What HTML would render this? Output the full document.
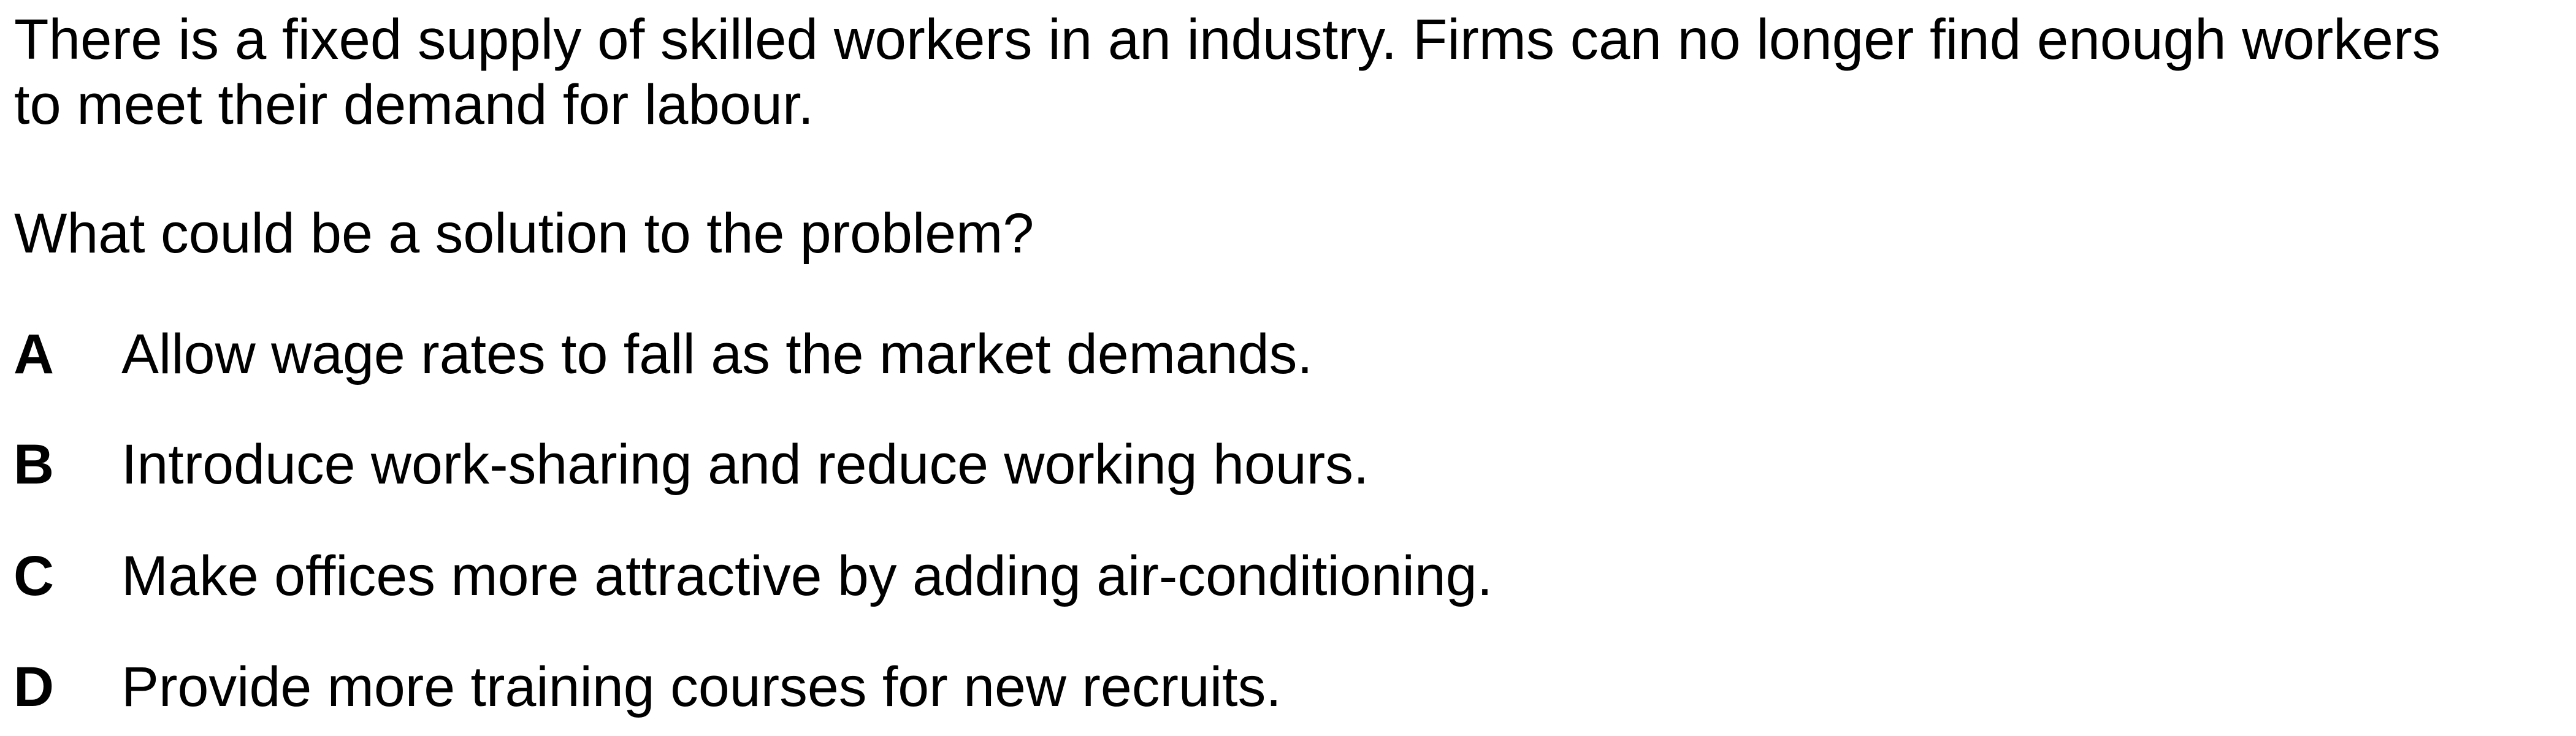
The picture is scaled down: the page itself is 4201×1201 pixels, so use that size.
<!DOCTYPE html>
<html>
<head>
<meta charset="utf-8">
<style>
  html, body { margin: 0; padding: 0; background: #fff; }
  body { width: 4201px; height: 1201px; overflow: hidden; }
  svg { display: block; }
  text { font-family: "Liberation Sans", Arial, sans-serif; font-size: 91.5px; fill: #000; }
  .b { font-weight: bold; }
</style>
</head>
<body>
<svg width="4201" height="1201" viewBox="0 0 4201 1201" xmlns="http://www.w3.org/2000/svg">
  <rect x="0" y="0" width="4201" height="1201" fill="#fff"/>
  <g>
    <text x="23" y="96" style="font-size:92.5px">There is a fixed supply of skilled workers in an industry. Firms can no longer find enough workers</text>
    <text x="23" y="202" style="font-size:92px">to meet their demand for labour.</text>
  </g>
  <text x="23" y="412">What could be a solution to the problem?</text>
  <g>
    <text class="b" x="22" y="609">A</text>
    <text x="198" y="609">Allow wage rates to fall as the market demands.</text>
  </g>
  <g>
    <text class="b" x="22" y="789">B</text>
    <text x="198" y="789">Introduce work-sharing and reduce working hours.</text>
  </g>
  <g>
    <text class="b" x="22" y="971">C</text>
    <text x="198" y="971">Make offices more attractive by adding air-conditioning.</text>
  </g>
  <g>
    <text class="b" x="22" y="1152">D</text>
    <text x="198" y="1152">Provide more training courses for new recruits.</text>
  </g>
</svg>
</body>
</html>
